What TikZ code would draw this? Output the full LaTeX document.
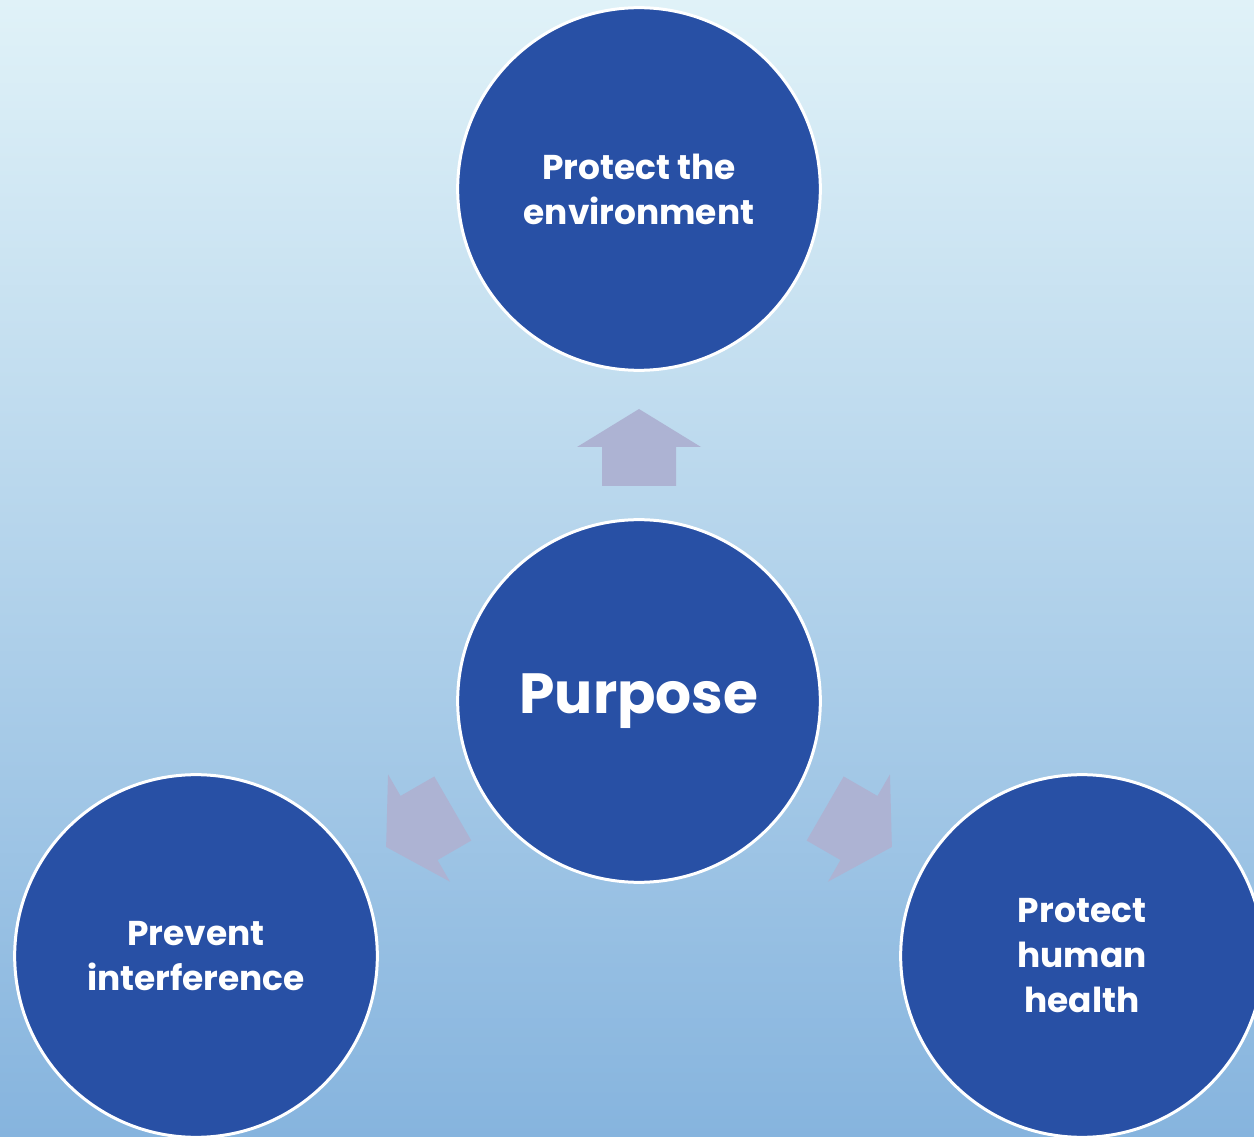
\documentclass[tikz,border=0pt]{standalone}
\usepackage{fontspec}
\setmainfont{Poppins}
\usepackage{tikz}

\definecolor{bgtop}{RGB}{224,242,248}
\definecolor{bgmid}{RGB}{194,222,240}
\definecolor{bgbot}{RGB}{134,180,222}
\definecolor{circblue}{RGB}{40,80,165}
\definecolor{arrowgrey}{RGB}{173,179,211}

\begin{document}
\begin{tikzpicture}[x=0.75pt,y=0.75pt,yscale=-1,xscale=1,
  bubble/.style={circle,fill=circblue,draw=white,line width=2.25pt,minimum size=272pt,inner sep=0pt,
    text=white,align=center,font=\bfseries\fontsize{25.8}{33.75}\selectfont},
  blockarrow/.style={fill=arrowgrey}]
\useasboundingbox (0,0) rectangle (1254,1137);

%Background
\shade [top color=bgtop, middle color=bgmid, bottom color=bgbot] (0,0) rectangle (1254,1137);

%Circles
\node [bubble] (purpose) at (639,701) {\fontsize{42.5}{46}\selectfont Purpose};
\node [bubble] (environment) at (639,189) {Protect the\\environment};
\node [bubble] (interference) at (196,956) {Prevent\\interference};
\node [bubble] (health) at (1082,956) {Protect\\human\\health};

%Block arrows
\foreach \ang in {-90,150,30}
  \fill [blockarrow, shift={(purpose.center)}, rotate=\ang] (215,-37) -- (254,-37) -- (254,-62) -- (292,0) -- (254,62) -- (254,37) -- (215,37) -- cycle;

\end{tikzpicture}
\end{document}
